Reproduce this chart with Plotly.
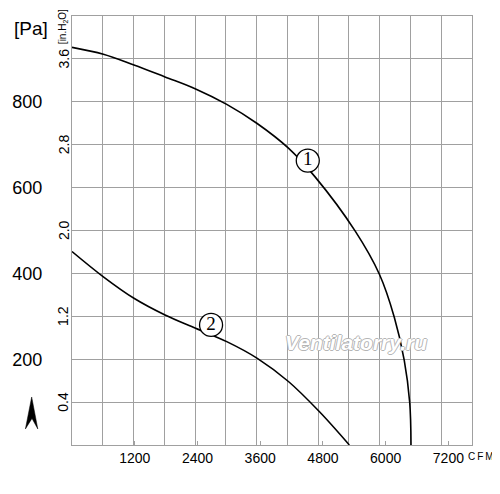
import plotly.graph_objects as go

# Curve 1 (upper fan curve): airflow in CFM, static pressure in Pa
curve1_cfm = [0, 600, 1185, 1780, 2365, 2960, 3535, 4140, 4650, 5415, 5880, 6165, 6355, 6460, 6485]
curve1_pa = [927, 911, 886, 858, 830, 794, 750, 692, 625, 499, 398, 298, 198, 99, 0]

# Curve 2 (lower fan curve)
curve2_cfm = [0, 600, 1185, 1780, 2365, 2960, 3545, 4140, 4730, 5305]
curve2_pa = [451, 392, 342, 303, 272, 241, 202, 148, 78, 0]

# Circled curve numbers
label_names = ['1', '2']
label_cfm = [4510, 2660]
label_pa = [663, 280]

# Axis ticks
x_ticks = [1200, 2400, 3600, 4800, 6000, 7200]
pa_ticks = [200, 400, 600, 800]
inh2o_ticks = ['0.4', '1.2', '2.0', '2.8', '3.6']
inh2o_pos = [100, 300, 500, 700, 900]

CFM_PER_M3H = 1 / 1.699  # grid is drawn every 1000 m3/h
SANS = 'Liberation Sans, Arial, sans-serif'
GRID = '#a0a0a0'

fig = go.Figure()

for xs, ys in [(curve1_cfm, curve1_pa), (curve2_cfm, curve2_pa)]:
    fig.add_trace(go.Scatter(
        x=xs, y=ys, mode='lines', line=dict(color='black', width=1.6, shape='spline', smoothing=1.0),
        hoverinfo='skip', showlegend=False,
    ))

# Circled numbers sitting on the curves
fig.add_trace(go.Scatter(
    x=label_cfm, y=label_pa, mode='markers+text', text=label_names, textposition='middle center',
    marker=dict(symbol='circle', size=23, color='white', line=dict(color='black', width=1.3)),
    textfont=dict(family='Liberation Serif, serif', size=19, color='black'),
    hoverinfo='skip', showlegend=False,
))

# inH2O labels, rotated, just left of the plot
for txt, pos in zip(inh2o_ticks, inh2o_pos):
    fig.add_annotation(
        x=-0.021, xref='paper', y=pos, yref='y', text=txt, textangle=-90, showarrow=False,
        font=dict(family=SANS, size=14, color='black'), xanchor='center', yanchor='middle',
    )
fig.add_annotation(
    x=-0.024, xref='paper', y=0.975, yref='paper', text='[in.H<sub>2</sub>O]', textangle=-90, showarrow=False,
    font=dict(family=SANS, size=10, color='black'), xanchor='center', yanchor='middle',
)

# Unit labels
fig.add_annotation(
    x=-0.1025, xref='paper', y=0.97, yref='paper', text='[Pa]', showarrow=False,
    font=dict(family=SANS, size=19, color='black'), xanchor='center', yanchor='middle',
)
fig.add_annotation(
    x=0.984, xref='paper', y=-0.027, yref='paper', text='C\u2009F\u2009M', showarrow=False,
    font=dict(family=SANS, size=10, color='black'), xanchor='left', yanchor='middle',
)

# Watermark with outlined letters
fig.add_annotation(
    x=0.71, xref='paper', y=0.238, yref='paper', text='Ventilatorry.ru', showarrow=False,
    font=dict(family=SANS, size=21, color='white', weight='bold', style='italic',
              shadow='1px 0 #b5b5b5, -1px 0 #b5b5b5, 0 1px #b5b5b5, 0 -1px #b5b5b5'),
    xanchor='center', yanchor='middle',
)

# Small upward arrow below the Pa labels
fig.add_shape(
    type='path', xref='paper', yref='paper',
    path='M -0.1008 0.1119 L -0.1165 0.0373 L -0.1000 0.0620 L -0.0855 0.0373 Z',
    fillcolor='black', line=dict(color='black', width=0.5),
)

fig.update_xaxes(
    range=[0, 13000 * CFM_PER_M3H], tickmode='array', tickvals=x_ticks,
    ticks='inside', ticklen=4, tickcolor=GRID, showgrid=False, automargin=False,
    minor=dict(tickmode='linear', tick0=0, dtick=1000 * CFM_PER_M3H, showgrid=True, gridcolor=GRID, gridwidth=1, ticklen=0),
    showline=True, mirror=True, linecolor=GRID, linewidth=1.2, zeroline=False,
    tickfont=dict(family=SANS, size=14, color='black'),
)
fig.update_yaxes(
    range=[0, 1000], tickmode='array', tickvals=pa_ticks, ticks='', automargin=False,
    showgrid=True, gridcolor=GRID, gridwidth=1,
    minor=dict(tickmode='linear', tick0=0, dtick=100, showgrid=True, gridcolor=GRID, gridwidth=1, ticklen=0),
    showline=True, mirror=True, linecolor=GRID, linewidth=1.2, zeroline=False,
    ticklabelstandoff=25, tickfont=dict(family=SANS, size=18, color='black'),
)

# The page body adds an 8px offset, so the figure is drawn 8px smaller with a tighter top/left margin
fig.update_layout(
    width=492, height=486,
    margin=dict(l=64, r=28, t=8, b=49),
    plot_bgcolor='white', paper_bgcolor='white',
    showlegend=False,
)

fig.write_html("out.html")
